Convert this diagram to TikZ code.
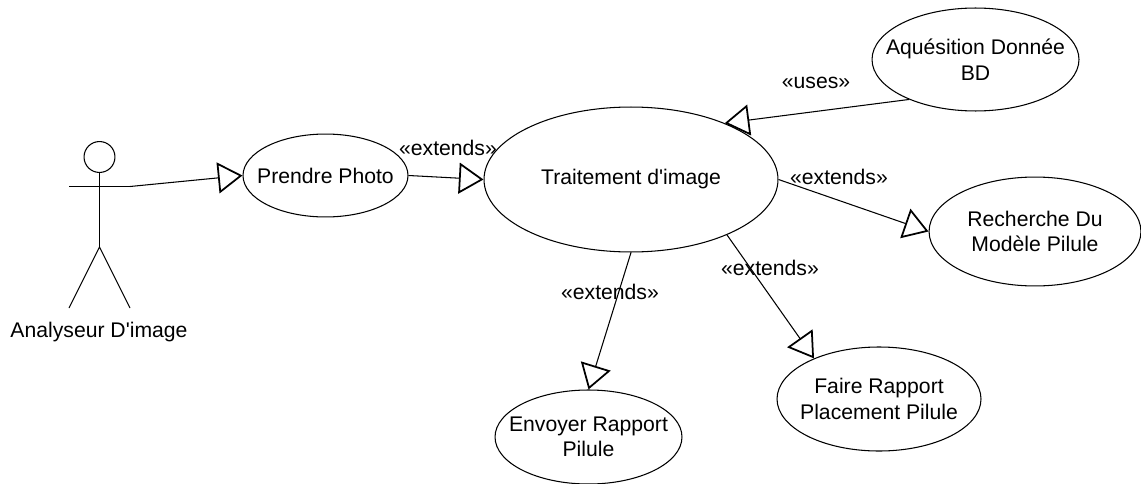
\documentclass[tikz,border=0pt]{standalone}
\usepackage{fontspec}
\newfontfamily\umlfont{Liberation Sans}
\usetikzlibrary{arrows.meta, shapes.geometric}
\tikzset{
    usecase/.style={draw, ellipse, inner xsep=-30pt, inner ysep=-15pt, align=center, line width=0.6pt},
    relation/.style={line width=0.6pt, -{Triangle[open, length=14pt, width=17.6pt, line width=1pt]}},
    stickman/.style={line width=0.6pt},
    stereotype/.style={inner sep=0pt}
}
\begin{document}
\begin{tikzpicture}[x=0.02cm, y=-0.02cm, font=\umlfont\fontsize{12.05}{14.5}\selectfont]
    \useasboundingbox (0,0) rectangle (1141,483);
    % the actor
    \node [draw, circle, stickman, minimum size=17.6pt, inner sep=0pt] (head) at (99.5,157){};
    \coordinate (armleft) at (69,186.5);
    \coordinate (armright) at (130,186.5);
    \coordinate (hip) at (99.5,247);
    \coordinate (footleft) at (69,308);
    \coordinate (footright) at (130,308);
    \draw [stickman] (head.south) --(hip);
    \draw [stickman] (armleft) --(armright);
    \draw [stickman] (footleft) --(hip) --(footright);
    \node [stereotype] (actorname) at (99,332){Analyseur D'image};
    % use cases
    \node [usecase, minimum width=93.9pt, minimum height=47.2pt] (photo) at (325.5,175.5){Prendre Photo};
    \node [usecase, minimum width=167.3pt, minimum height=82.5pt] (traitement) at (631,179.5){Traitement d'image};
    \node [usecase, minimum width=117.8pt, minimum height=58.6pt] (acquisition) at (975.5,59.5){Aquésition Donnée\\BD};
    \node [usecase, minimum width=120.6pt, minimum height=62pt] (recherche) at (1035,231.5){Recherche Du\\Modèle Pilule};
    \node [usecase, minimum width=116.1pt, minimum height=59.2pt] (rapport) at (879,399){Faire Rapport\\Placement Pilule};
    \node [usecase, minimum width=106.4pt, minimum height=53.5pt] (envoi) at (588.5,437){Envoyer Rapport\\Pilule};
    % relations
    \draw [relation] (armright) --(photo.west);
    \draw [relation] (photo.east) --(traitement.west);
    \draw [relation] (acquisition.211) --(traitement.31);
    \draw [relation] (traitement.east) --(recherche.west);
    \draw [relation] (traitement.-30) --(rapport.148);
    \draw [relation] (traitement.south) --(envoi.north);
    % stereotypes
    \node [stereotype] (extphoto) at (448,148){«extends»};
    \node [stereotype] (uses) at (816,83){«uses»};
    \node [stereotype] (extrecherche) at (839,177){«extends»};
    \node [stereotype] (extrapport) at (770,268){«extends»};
    \node [stereotype] (extenvoi) at (610,292){«extends»};
\end{tikzpicture}
\end{document}
